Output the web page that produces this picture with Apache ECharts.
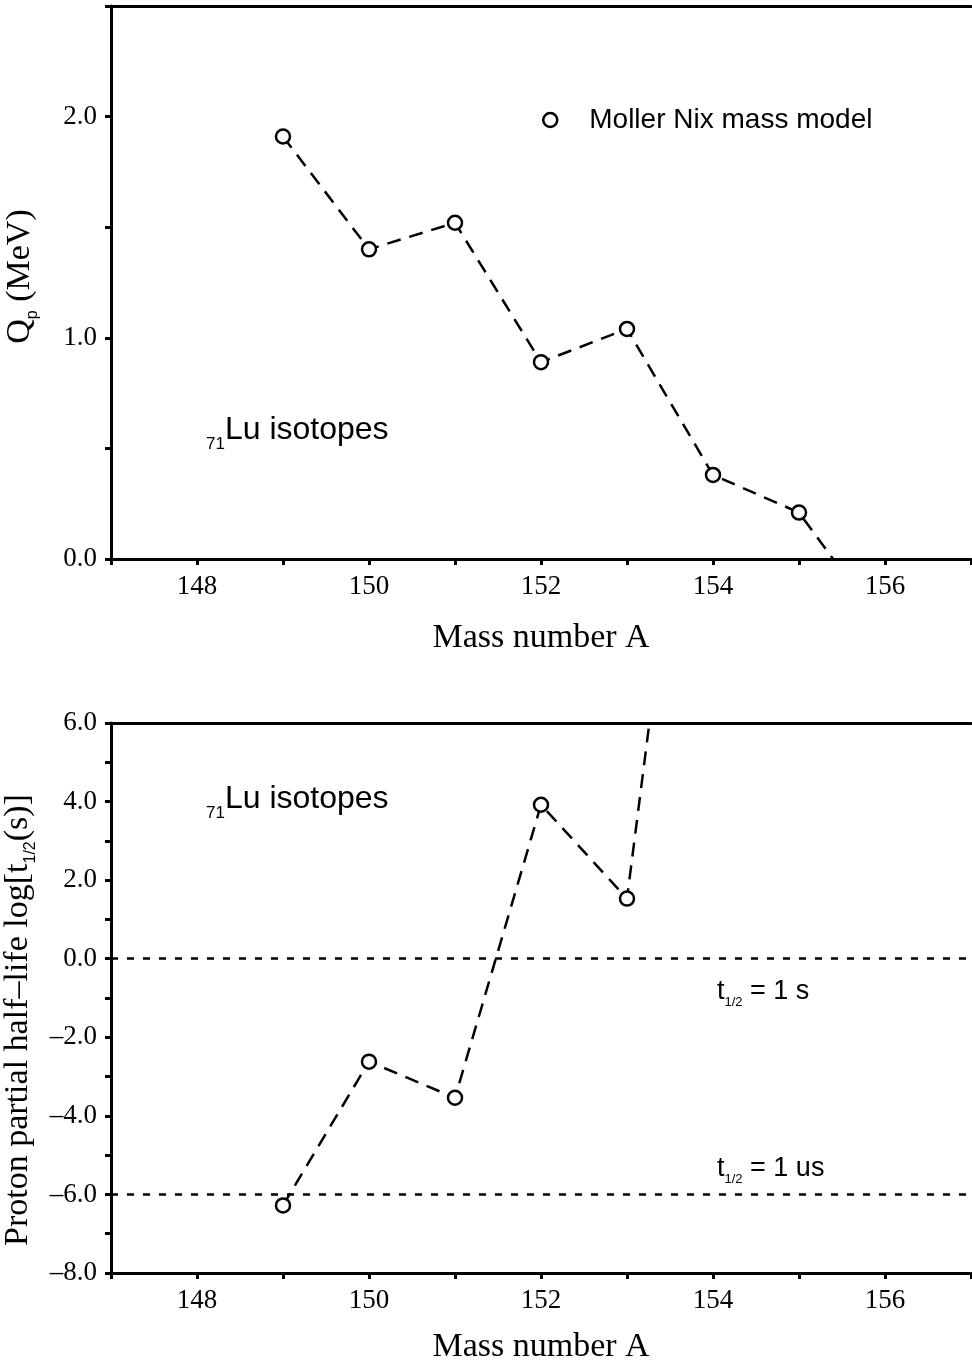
<!DOCTYPE html>
<html>
<head>
<meta charset="utf-8">
<script src="https://cdn.jsdelivr.net/npm/echarts@6/dist/echarts.min.js"></script>
<style>
  html, body { margin: 0; padding: 0; background: #fff; }
  #chart { width: 972px; height: 1363px; }
</style>
</head>
<body>
<div id="chart"></div>
<script>
// data
var massNumbers = [149, 150, 151, 152, 153, 154, 155, 156];
var qpValues = [1.91, 1.40, 1.52, 0.89, 1.04, 0.38, 0.21, -0.32];   // MeV
var halfLifeMass = [149, 150, 151, 152, 153, 154];
var logHalfLife = [-6.28, -2.62, -3.54, 3.92, 1.53, 18.7];        // log10 t1/2 (s)
var refLines = [0, -6];                                             // 1 s and 1 us
var xTickLabels = [148, 150, 152, 154, 156];
var qpTickLabels = [0, 1, 2];
var logTickLabels = [-8, -6, -4, -2, 0, 2, 4, 6];

var serif = 'Liberation Serif';
var sans = 'Liberation Sans';

function pairs(xs, ys) {
  return xs.map(function (x, i) { return [x, ys[i]]; });
}
function numLabel(list) {
  return function (v) {
    for (var i = 0; i < list.length; i++) {
      if (Math.abs(list[i] - v) < 1e-6) {
        return (v < 0 ? '\u2013' : '') + Math.abs(v).toFixed(1);
      }
    }
    return '';
  };
}
function xLabel(v) {
  return xTickLabels.indexOf(Math.round(v)) >= 0 && Math.abs(v - Math.round(v)) < 1e-6 ? String(Math.round(v)) : '';
}

var axisLine = { show: true, onZero: false, lineStyle: { color: '#000', width: 3 } };
var axisTick = { show: true, length: 6, lineStyle: { color: '#000', width: 3 } };
var subRich = {
  n: { fontFamily: serif, fontSize: 34, color: '#000', lineHeight: 42, verticalAlign: 'middle' },
  s: { fontFamily: sans, fontSize: 16, color: '#000', lineHeight: 42, verticalAlign: 'bottom' }
};

function bottomX(grid, gap) {
  return {
    type: 'value', gridIndex: grid, min: 147, max: 157, interval: 1,
    name: 'Mass number A', nameLocation: 'middle', nameGap: gap,
    nameTextStyle: { fontFamily: serif, fontSize: 34, color: '#000' },
    axisLine: axisLine, axisTick: axisTick, splitLine: { show: false },
    axisLabel: { formatter: xLabel, fontFamily: serif, fontSize: 27, color: '#000', margin: 14 }
  };
}
function topX(grid) {
  return {
    type: 'value', gridIndex: grid, position: 'top', min: 147, max: 157,
    axisLine: axisLine, axisTick: { show: false }, axisLabel: { show: false }, splitLine: { show: false }
  };
}

var lineStyle = { color: '#000', width: 2.5, type: [14, 9] };
var symbolStyle = { color: '#fff', borderColor: '#000', borderWidth: 2.5 };

function isoText(top) {
  return {
    type: 'text', left: 206, top: top,
    style: {
      text: '{s|71}{n|Lu isotopes}',
      rich: {
        n: { fontFamily: sans, fontSize: 32, fill: '#000', lineHeight: 46, verticalAlign: 'middle' },
        s: { fontFamily: sans, fontSize: 17, fill: '#000', lineHeight: 46, verticalAlign: 'bottom' }
      }
    }
  };
}
function halfText(top, txt) {
  return {
    type: 'text', left: 717, top: top,
    style: {
      text: '{n|t}{s|1/2}{n| = ' + txt + '}',
      rich: {
        n: { fontFamily: sans, fontSize: 27, fill: '#000', lineHeight: 34, verticalAlign: 'middle' },
        s: { fontFamily: sans, fontSize: 13, fill: '#000', lineHeight: 34, verticalAlign: 'bottom' }
      }
    }
  };
}

var chart = echarts.init(document.getElementById('chart'));
chart.setOption({
  backgroundColor: '#fff',
  animation: false,
  grid: [
    { left: 111, top: 6, right: 1, height: 553, containLabel: false, outerBoundsMode: 'none' },
    { left: 111, top: 723, right: 1, height: 550, containLabel: false, outerBoundsMode: 'none' }
  ],
  xAxis: [bottomX(0, 62), topX(0), bottomX(1, 57), topX(1)],
  yAxis: [
    {
      type: 'value', gridIndex: 0, min: 0, max: 2.5, interval: 0.5,
      name: '{n|Q}{s|p}{n| (MeV)}', nameLocation: 'middle', nameGap: 70,
      nameTextStyle: { rich: subRich, padding: [0, 0, 0, 12] },
      axisLine: axisLine, axisTick: axisTick, splitLine: { show: false },
      axisLabel: { formatter: numLabel(qpTickLabels), fontFamily: serif, fontSize: 27, color: '#000', margin: 14 }
    },
    {
      type: 'value', gridIndex: 1, min: -8, max: 6, interval: 1,
      name: '{n|Proton partial half\u2013life log[t}{s|1/2}{n|(s)]}', nameLocation: 'middle', nameGap: 72,
      nameTextStyle: { rich: subRich, padding: [0, 44, 0, 0] },
      axisLine: axisLine, axisTick: axisTick, splitLine: { show: false },
      axisLabel: { formatter: numLabel(logTickLabels), fontFamily: serif, fontSize: 27, color: '#000', margin: 14 }
    }
  ],
  legend: {
    data: ['Moller Nix mass model'],
    left: 537, top: 101,
    icon: 'circle', itemWidth: 14, itemHeight: 14,
    itemStyle: { color: '#fff', borderColor: '#000', borderWidth: 2.5 },
    textStyle: { fontFamily: sans, fontSize: 28, color: '#000', padding: [0, 0, 0, 27] }
  },
  series: [
    {
      name: 'Moller Nix mass model', type: 'line', xAxisIndex: 0, yAxisIndex: 0,
      data: pairs(massNumbers, qpValues),
      symbol: 'circle', symbolSize: 14, clip: true,
      lineStyle: lineStyle, itemStyle: symbolStyle
    },
    {
      name: 'Moller Nix mass model', type: 'line', xAxisIndex: 2, yAxisIndex: 1,
      data: pairs(halfLifeMass, logHalfLife),
      symbol: 'circle', symbolSize: 14, clip: true,
      lineStyle: lineStyle, itemStyle: symbolStyle,
      markLine: {
        silent: true, symbol: 'none', animation: false,
        label: { show: false },
        lineStyle: { color: '#000', width: 2.5, type: [7, 9] },
        data: refLines.map(function (v) { return { yAxis: v }; })
      }
    }
  ],
  graphic: [
    isoText(414),
    isoText(783),
    halfText(978, '1 s'),
    halfText(1155, '1 us')
  ]
});
</script>
</body>
</html>
